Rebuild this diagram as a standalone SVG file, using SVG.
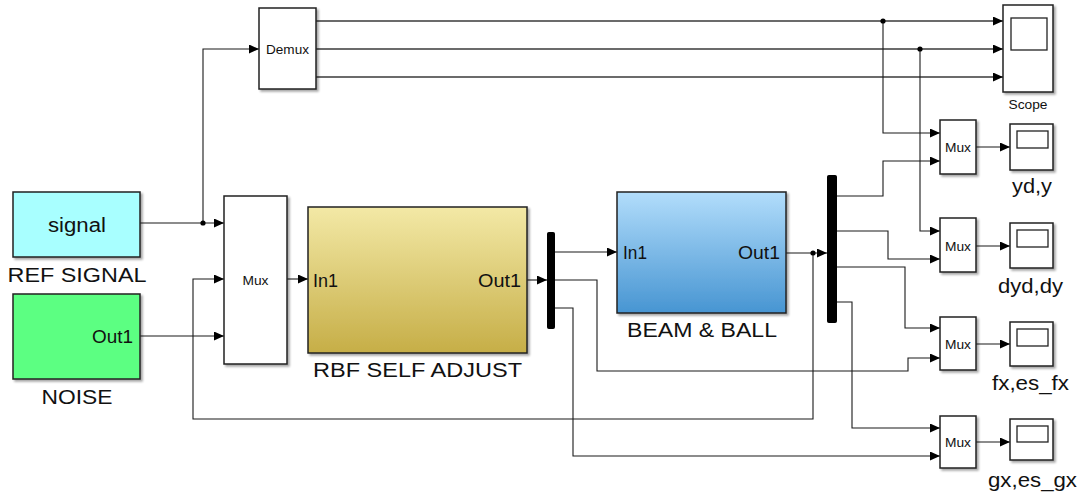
<svg xmlns="http://www.w3.org/2000/svg" width="1085" height="497" viewBox="0 0 1085 497">
  <defs>
    <linearGradient id="gold" x1="0" y1="0" x2="0" y2="1">
      <stop offset="0" stop-color="#f3e9a6"/>
      <stop offset="1" stop-color="#c6ae47"/>
    </linearGradient>
    <linearGradient id="blue" x1="0" y1="0" x2="0" y2="1">
      <stop offset="0" stop-color="#b2ddfb"/>
      <stop offset="1" stop-color="#4795d2"/>
    </linearGradient>
    <filter id="shadow" x="-10%" y="-10%" width="130%" height="130%">
      <feDropShadow dx="2" dy="2" stdDeviation="1" flood-color="#000" flood-opacity="0.35"/>
    </filter>
    <marker id="arrow" markerUnits="userSpaceOnUse" markerWidth="10" markerHeight="9" refX="10" refY="4.5" orient="auto">
      <path d="M0,0 L10,4.5 L0,9 z" fill="#000"/>
    </marker>
  </defs>
  <style>
    .blk { stroke: #222; stroke-width: 1.5; filter: url(#shadow); }
    .wht { fill: #fff; }
    .bar { fill: #000; stroke: #000; stroke-width: 1; }
    .scr { fill: #fff; stroke: #222; stroke-width: 1.3; }
    .ln { fill: none; stroke: #1a1a1a; stroke-width: 1.1; }
    .bus { fill: none; stroke: #3a3a3a; stroke-width: 1.7; }
    .arr { marker-end: url(#arrow); }
    .dot { fill: #000; }
    text { font-family: "Liberation Sans", Arial, sans-serif; fill: #111; }
    .lbl { font-size: 20px; }
    .port { font-size: 19px; }
    .sm { font-size: 13px; }
  </style>

  <!-- connectors -->
  <g id="connectors">
    <!-- reference signal into the input mux, branched to the demux -->
    <path class="ln arr" d="M140,223 H224"/>
    <path class="ln arr" d="M203,223 V49 H259"/>
    <!-- noise into the input mux -->
    <path class="ln arr" d="M140,336 H224"/>
    <!-- plant output fed back to the input mux -->
    <path class="ln arr" d="M813,253 V419 H193 V279 H224"/>
    <!-- forward path -->
    <path class="ln arr" d="M287,279 H308"/>
    <path class="ln arr" d="M527,280 H547"/>
    <path class="ln arr" d="M555,252 H617"/>
    <path class="ln arr" d="M786,253 H827"/>
    <!-- controller outputs to the fx / gx muxes -->
    <path class="ln arr" d="M555,280 H597 V371 H908 V358 H940"/>
    <path class="ln arr" d="M555,308 H573 V456 H940"/>
    <!-- plant state outputs to the muxes -->
    <path class="ln arr" d="M837,196 H883 V161 H940"/>
    <path class="ln arr" d="M837,231 H888 V259 H940"/>
    <path class="ln arr" d="M837,267 H905 V328 H940"/>
    <path class="ln arr" d="M837,302 H852 V428 H940"/>
    <!-- demux outputs to the scope -->
    <path class="bus arr" d="M316,21 H1003"/>
    <path class="bus arr" d="M316,49 H1003"/>
    <path class="bus arr" d="M316,77 H1003"/>
    <path class="ln arr" d="M883,21 V133 H940"/>
    <path class="ln arr" d="M920,49 V231 H940"/>
    <!-- mux outputs to the scopes -->
    <path class="ln arr" d="M976,147 H1010"/>
    <path class="ln arr" d="M976,246 H1010"/>
    <path class="ln arr" d="M976,344 H1010"/>
    <path class="ln arr" d="M976,442 H1010"/>
    <!-- branch points -->
    <circle class="dot" cx="203" cy="223" r="2.6"/>
    <circle class="dot" cx="813" cy="253" r="2.6"/>
    <circle class="dot" cx="883" cy="21" r="2.6"/>
    <circle class="dot" cx="920" cy="49" r="2.6"/>
  </g>

  <g id="ref-signal">
    <rect class="blk" x="13" y="192" width="127" height="65" fill="#a8ffff"/>
    <text class="lbl" x="77" y="232" text-anchor="middle" textLength="58" lengthAdjust="spacingAndGlyphs">signal</text>
    <text class="lbl" x="77" y="282" text-anchor="middle" textLength="139" lengthAdjust="spacingAndGlyphs">REF SIGNAL</text>
  </g>

  <g id="noise">
    <rect class="blk" x="13" y="294" width="127" height="85" fill="#5cff82"/>
    <text class="port" x="133" y="343" text-anchor="end" textLength="41" lengthAdjust="spacingAndGlyphs">Out1</text>
    <text class="lbl" x="77" y="404" text-anchor="middle" textLength="71" lengthAdjust="spacingAndGlyphs">NOISE</text>
  </g>

  <g id="demux">
    <rect class="blk wht" x="259" y="8" width="57" height="81"/>
    <text class="sm" x="287.5" y="53.5" text-anchor="middle" textLength="43" lengthAdjust="spacingAndGlyphs">Demux</text>
  </g>

  <g id="mux-in">
    <rect class="blk wht" x="224" y="196" width="63" height="168"/>
    <text class="sm" x="255.5" y="284.5" text-anchor="middle" textLength="26" lengthAdjust="spacingAndGlyphs">Mux</text>
  </g>

  <g id="rbf-self-adjust">
    <rect class="blk" x="308" y="207" width="219" height="146" fill="url(#gold)"/>
    <text class="port" x="313" y="287" textLength="25" lengthAdjust="spacingAndGlyphs">In1</text>
    <text class="port" x="521" y="287" text-anchor="end" textLength="43" lengthAdjust="spacingAndGlyphs">Out1</text>
    <text class="lbl" x="417.5" y="377" text-anchor="middle" textLength="209" lengthAdjust="spacingAndGlyphs">RBF SELF ADJUST</text>
  </g>

  <g id="demux-rbf">
    <rect class="bar" x="547.5" y="232.5" width="7" height="96" rx="1"/>
  </g>

  <g id="beam-ball">
    <rect class="blk" x="617" y="192" width="169" height="121" fill="url(#blue)"/>
    <text class="port" x="623" y="259" textLength="24" lengthAdjust="spacingAndGlyphs">In1</text>
    <text class="port" x="780" y="259" text-anchor="end" textLength="42" lengthAdjust="spacingAndGlyphs">Out1</text>
    <text class="lbl" x="702" y="337" text-anchor="middle" textLength="150" lengthAdjust="spacingAndGlyphs">BEAM &amp; BALL</text>
  </g>

  <g id="demux-plant">
    <rect class="bar" x="827.5" y="175.5" width="9" height="147" rx="1"/>
  </g>

  <g id="scope">
    <rect class="blk wht" x="1003" y="5" width="50" height="87"/>
    <rect class="scr" x="1011" y="18" width="36" height="32"/>
    <text class="sm" x="1028" y="109" text-anchor="middle" textLength="39" lengthAdjust="spacingAndGlyphs">Scope</text>
  </g>

  <g id="mux-yd">
    <rect class="blk wht" x="940" y="120" width="36" height="54"/>
    <text class="sm" x="958" y="151.5" text-anchor="middle" textLength="26" lengthAdjust="spacingAndGlyphs">Mux</text>
  </g>
  <g id="scope-yd">
    <rect class="blk wht" x="1010" y="124" width="43" height="46"/>
    <rect class="scr" x="1017" y="131" width="31" height="17"/>
    <text class="lbl" x="1032" y="193" text-anchor="middle" textLength="40" lengthAdjust="spacingAndGlyphs">yd,y</text>
  </g>

  <g id="mux-dyd">
    <rect class="blk wht" x="940" y="218" width="36" height="54"/>
    <text class="sm" x="958" y="250.5" text-anchor="middle" textLength="26" lengthAdjust="spacingAndGlyphs">Mux</text>
  </g>
  <g id="scope-dyd">
    <rect class="blk wht" x="1010" y="223" width="43" height="45"/>
    <rect class="scr" x="1017" y="230" width="31" height="17"/>
    <text class="lbl" x="1030.5" y="293" text-anchor="middle" textLength="65" lengthAdjust="spacingAndGlyphs">dyd,dy</text>
  </g>

  <g id="mux-fx">
    <rect class="blk wht" x="940" y="317" width="36" height="53"/>
    <text class="sm" x="958" y="348.5" text-anchor="middle" textLength="26" lengthAdjust="spacingAndGlyphs">Mux</text>
  </g>
  <g id="scope-fx">
    <rect class="blk wht" x="1010" y="322" width="43" height="44"/>
    <rect class="scr" x="1017" y="329" width="31" height="17"/>
    <text class="lbl" x="1030.5" y="390" text-anchor="middle" textLength="77" lengthAdjust="spacingAndGlyphs">fx,es_fx</text>
  </g>

  <g id="mux-gx">
    <rect class="blk wht" x="940" y="416" width="36" height="52"/>
    <text class="sm" x="958" y="446.5" text-anchor="middle" textLength="26" lengthAdjust="spacingAndGlyphs">Mux</text>
  </g>
  <g id="scope-gx">
    <rect class="blk wht" x="1010" y="419" width="43" height="41"/>
    <rect class="scr" x="1017" y="426" width="31" height="16"/>
    <text class="lbl" x="1032.5" y="487" text-anchor="middle" textLength="89" lengthAdjust="spacingAndGlyphs">gx,es_gx</text>
  </g>
</svg>
